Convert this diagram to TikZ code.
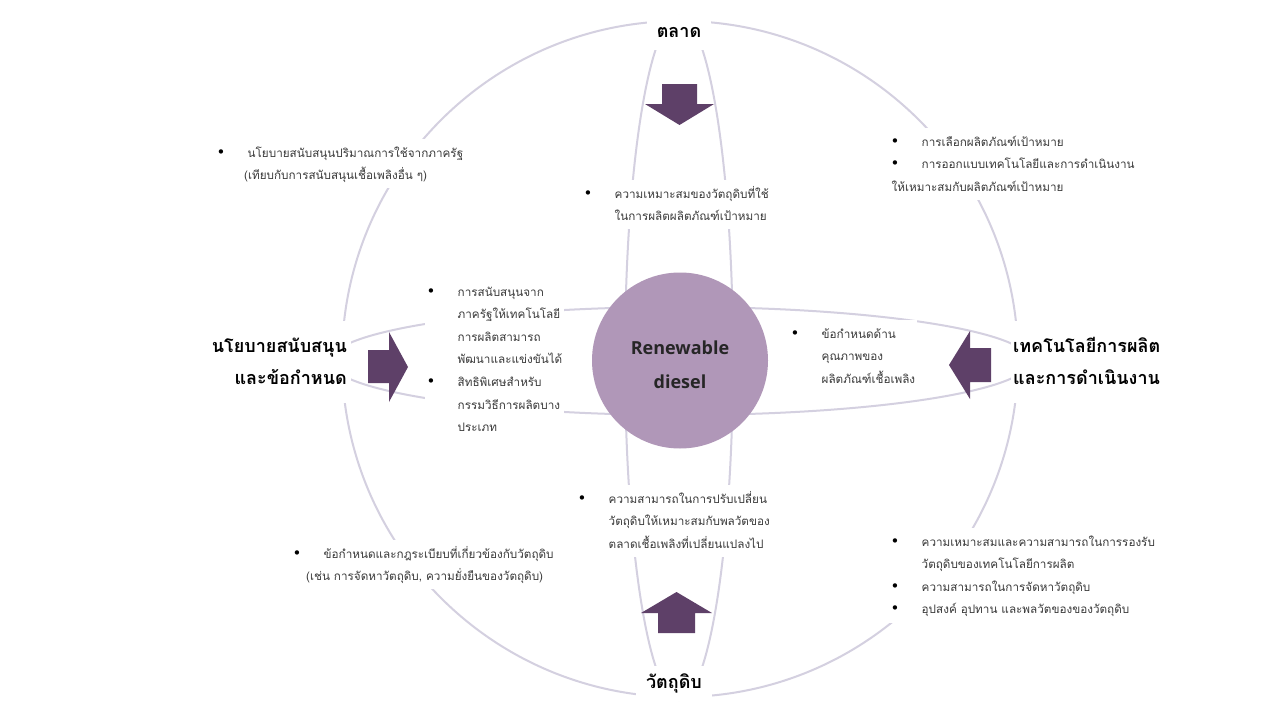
\documentclass[tikz,border=0pt]{standalone}
\usepackage{fontspec}
\setmainfont[Script=Thai]{Loma}
\newfontfamily\dv{DejaVu Sans}
\newfontfamily\lat{Open Sans}
\definecolor{linec}{RGB}{212,208,224}
\definecolor{arrowc}{RGB}{94,64,104}
\definecolor{centc}{RGB}{176,151,184}
\definecolor{txtc}{RGB}{58,58,58}
\definecolor{darkt}{RGB}{38,38,38}
\tikzset{
  ring/.style={draw=linec, line width=2pt},
  blk/.style={fill=white, inner sep=2pt, anchor=base west, text=txtc, font=\fontsize{11.7}{22.6}\selectfont},
  ttl/.style={fill=white, text=black, font=\bfseries\fontsize{18}{32}\selectfont},
  arr/.style={fill=arrowc, draw=none},
}
\newcommand\bl[1]{\makebox[31.2pt][l]{{\dv\fontsize{15}{15}\selectfont\color{black}•}}#1}
\newcommand\cn[1]{\hspace*{31.2pt}#1}
\begin{document}
\begin{tikzpicture}[x=1pt,y=-1pt]
\fill[white] (0,0) rectangle (1280,720);
\useasboundingbox (0,0) rectangle (1280,720);
% rings
\draw[ring] (680,359) circle[radius=338];
\draw[ring] (679,358) ellipse[x radius=54, y radius=342];
\draw[ring] (680,361) ellipse[x radius=350, y radius=54];
% text blocks
\node[blk] (tl) at (214.3,157) {\begin{tabular}[t]{@{}l@{}}\bl{นโยบายสนับสนุนปริมาณการใช้จากภาครัฐ}\\\hspace*{27.7pt}(เทียบกับการสนับสนุนเชื้อเพลิงอื่น ๆ)\end{tabular}};
\node[blk] (tc) at (581.3,198) {\begin{tabular}[t]{@{}l@{}}\bl{ความเหมาะสมของวัตถุดิบที่ใช้}\\\cn{ในการผลิตผลิตภัณฑ์เป้าหมาย}\end{tabular}};
\node[blk] (tr) at (888.3,146) {\begin{tabular}[t]{@{}l@{}}\bl{การเลือกผลิตภัณฑ์เป้าหมาย}\\\bl{การออกแบบเทคโนโลยีและการดำเนินงาน}\\\hspace*{1.2pt}ให้เหมาะสมกับผลิตภัณฑ์เป้าหมาย\end{tabular}};
\node[blk] (cl) at (424.3,296) {\begin{tabular}[t]{@{}l@{}}\bl{การสนับสนุนจาก}\\\cn{ภาครัฐให้เทคโนโลยี}\\\cn{การผลิตสามารถ}\\\cn{พัฒนาและแข่งขันได้}\\\bl{สิทธิพิเศษสำหรับ}\\\cn{กรรมวิธีการผลิตบาง}\\\cn{ประเภท}\end{tabular}};
\node[blk] (cr) at (788.3,338) {\begin{tabular}[t]{@{}l@{}}\bl{ข้อกำหนดด้าน}\\\cn{คุณภาพของ}\\\cn{ผลิตภัณฑ์เชื้อเพลิง}\end{tabular}};
\node[blk] (bc) at (575.3,503) {\begin{tabular}[t]{@{}l@{}}\bl{ความสามารถในการปรับเปลี่ยน}\\\cn{วัตถุดิบให้เหมาะสมกับพลวัตของ}\\\cn{ตลาดเชื้อเพลิงที่เปลี่ยนแปลงไป}\end{tabular}};
\node[blk] (bl) at (290.3,558) {\begin{tabular}[t]{@{}l@{}}\bl{ข้อกำหนดและกฎระเบียบที่เกี่ยวข้องกับวัตถุดิบ}\\\hspace*{13.7pt}(เช่น การจัดหาวัตถุดิบ, ความยั่งยืนของวัตถุดิบ)\end{tabular}};
\node[blk] (br) at (888.3,546) {\begin{tabular}[t]{@{}l@{}}\bl{ความเหมาะสมและความสามารถในการรองรับ}\\\cn{วัตถุดิบของเทคโนโลยีการผลิต}\\\bl{ความสามารถในการจัดหาวัตถุดิบ}\\\bl{อุปสงค์ อุปทาน และพลวัตของของวัตถุดิบ}\end{tabular}};
% titles
\node[ttl, anchor=base, inner xsep=10pt, inner ysep=8pt, text height=14pt, text depth=5pt] (mkt) at (679,37) {ตลาด};
\node[ttl, anchor=base, inner xsep=10pt, inner ysep=8pt, text height=14pt, text depth=5pt] (raw) at (674,688) {วัตถุดิบ};
\node[ttl, anchor=base east, inner xsep=4pt, inner ysep=9pt] (pol) at (351,352) {\begin{tabular}[t]{@{}r@{}}นโยบายสนับสนุน\\และข้อกำหนด\end{tabular}};
\node[ttl, anchor=base west, inner xsep=2pt, inner ysep=9pt] (tech) at (1011,352) {\begin{tabular}[t]{@{}l@{}}เทคโนโลยีการผลิต\\และการดำเนินงาน\end{tabular}};
% centre
\node[circle, fill=centc, minimum size=176pt, inner sep=0pt, text=darkt, font=\lat\bfseries\fontsize{18}{34}\selectfont] (rd) at (680,360.5) {\raisebox{-8.5pt}[0pt][0pt]{\begin{tabular}{@{}c@{}}Renewable\\diesel\end{tabular}}};
% block arrows
\fill[arr] (662,84) -- (697,84) -- (697,104) -- (714,104) -- (679.5,125) -- (645,104) -- (662,104) -- cycle;
\fill[arr] (658,633) -- (695,633) -- (695,613) -- (712,613) -- (676.5,592) -- (641,613) -- (658,613) -- cycle;
\fill[arr] (368,350) -- (389,350) -- (389,332) -- (408,367) -- (389,402) -- (389,383) -- (368,383) -- cycle;
\fill[arr] (991,348) -- (970,348) -- (970,331) -- (949,365) -- (970,399) -- (970,382) -- (991,382) -- cycle;
\end{tikzpicture}
\end{document}
